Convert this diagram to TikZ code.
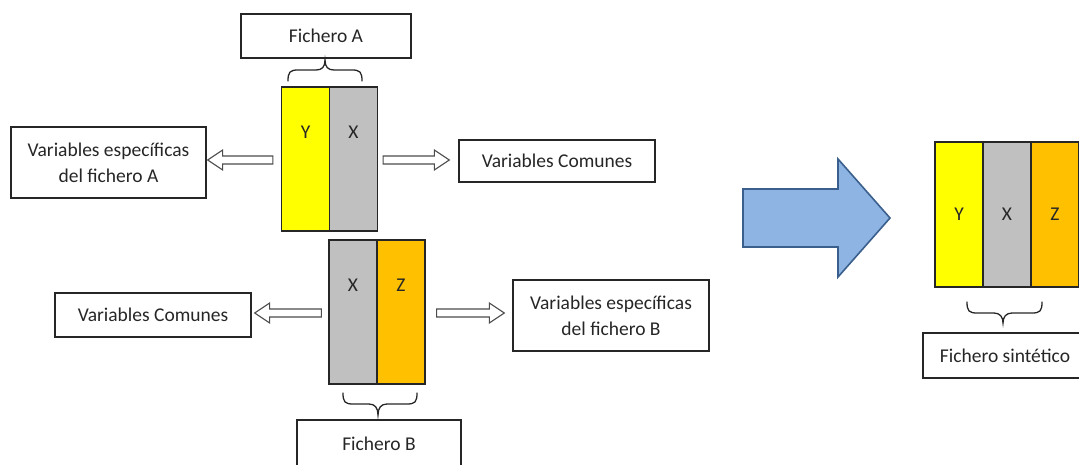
\documentclass[tikz,border=0pt]{standalone}
\usepackage{fontspec}
\setmainfont{Carlito}
\usetikzlibrary{calc}
\definecolor{yel}{HTML}{FFFF00}
\definecolor{gry}{HTML}{C0C0C0}
\definecolor{org}{HTML}{FFC000}
\definecolor{bluef}{HTML}{8EB4E3}
\definecolor{blued}{HTML}{3A5F8C}
\definecolor{ink}{HTML}{262626}
\newcommand\hollowarrow[2]{%
  \draw[hollow] let \p1=#1, \p2=#2, \n2={\x2-15pt*ifthenelse(\x2>\x1,1,-1)} in
    (\x1,\y1+4pt) -- (\n2,\y1+4pt) -- (\n2,\y1+10pt)
    -- (\x2,\y1) -- (\n2,\y1-10pt) -- (\n2,\y1-4pt)
    -- (\x1,\y1-4pt) -- cycle;}
\begin{document}
\begin{tikzpicture}[x=1pt,y=-1pt,
  font=\fontsize{19.5}{26}\selectfont,
  box/.style={draw=ink, line width=1.3pt, inner sep=0pt, align=center, text=ink},
  colbox/.style={draw=ink, line width=1.3pt, inner sep=0pt, minimum width=48pt,
    minimum height=144pt, text=ink},
  letter/.style={anchor=center, yshift=-46pt, inner sep=0pt, text=ink},
  hollow/.style={draw=black!70, line width=1.1pt, fill=white, line join=miter},
  bracestyle/.style={draw=ink, line width=1.3pt, line cap=round},
  bigarrow/.style={draw=blued, line width=1.6pt, fill=bluef, line join=miter}]
\useasboundingbox (0,0) rectangle (1079,464);

% --- file A ---
\node[box, minimum width=170pt, minimum height=44pt] (fichA) at (326,36) {Fichero A};
\node[colbox, fill=yel, label={[letter]90:Y}] (yA) at (305.5,159) {};
\node[colbox, fill=gry, label={[letter]90:X}] (xA) at (353.5,159) {};
\node[box, minimum width=195pt, minimum height=71pt] (varA) at (108.5,162.5)
  {Variables específicas\\del fichero A};
\node[box, minimum width=196pt, minimum height=42pt] (comA) at (557,161) {Variables Comunes};

% --- file B ---
\node[colbox, fill=gry, label={[letter]90:X}] (xB) at (353,312) {};
\node[colbox, fill=org, label={[letter]90:Z}] (zB) at (401,312) {};
\node[box, minimum width=196pt, minimum height=44pt] (comB) at (153,315) {Variables Comunes};
\node[box, minimum width=196pt, minimum height=71pt] (varB) at (611,315.5)
  {Variables específicas\\del fichero B};
\node[box, minimum width=164pt, minimum height=48pt] (fichB) at (379,444) {Fichero B};

% --- synthetic file ---
\node[colbox, fill=yel, minimum height=145pt] (yC) at (959,214.5) {Y};
\node[colbox, fill=gry, minimum height=145pt] (xC) at (1007,214.5) {X};
\node[colbox, fill=org, minimum height=145pt] (zC) at (1055,214.5) {Z};
\node[box, minimum width=164pt, minimum height=45pt] (fichS) at (1005,355.5) {Fichero sintético};

% --- hollow arrows ---
\hollowarrow{($(yA.west)+(-8,1)$)}{($(varA.east)+(1,0)$)}
\hollowarrow{($(xA.east)+(5,1)$)}{($(comA.west)+(-9,0)$)}
\hollowarrow{($(xB.west)+(-7,1)$)}{($(comB.east)+(3,0)$)}
\hollowarrow{($(zB.east)+(11,1)$)}{($(varB.west)+(-8,0)$)}

% --- big arrow ---
\draw[bigarrow] (743,189) -- (838,189) -- (838,159) -- (890,218) -- (838,277)
  -- (838,247) -- (743,247) -- cycle;

% --- braces ---
\draw[bracestyle] (288,81) .. controls (288,72) and (290,70) .. (298,70) -- (316,70)
  .. controls (322,70) and (325,67) .. (325,60)
  .. controls (325,67) and (328,70) .. (334,70) -- (352,70)
  .. controls (360,70) and (362,72) .. (362,81);
\draw[bracestyle] (343,393) .. controls (343,402) and (345,404) .. (353,404) -- (369,404)
  .. controls (375,404) and (378,408) .. (378,415)
  .. controls (378,408) and (381,404) .. (387,404) -- (407,404)
  .. controls (415,404) and (417,402) .. (417,393);
\draw[bracestyle] (967,302) .. controls (967,311) and (969,313) .. (977,313) -- (994,313)
  .. controls (1000,313) and (1003,317) .. (1003,323)
  .. controls (1003,317) and (1006,313) .. (1012,313) -- (1032,313)
  .. controls (1040,313) and (1042,311) .. (1042,302);
\end{tikzpicture}
\end{document}
